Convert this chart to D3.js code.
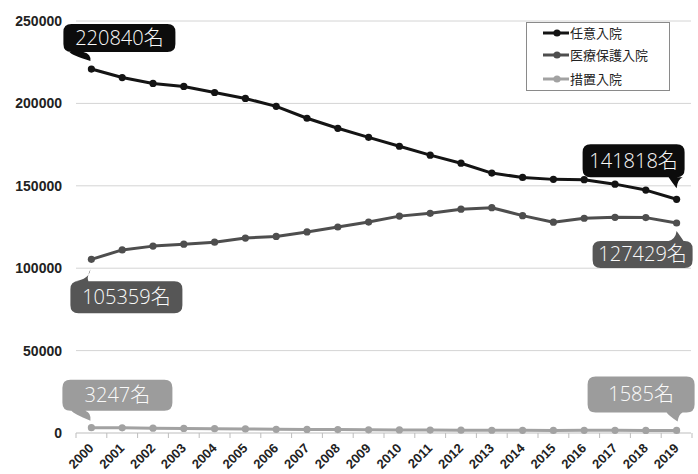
<!DOCTYPE html>
<html>
<head>
<meta charset="utf-8">
<script src="https://cdn.jsdelivr.net/npm/d3@7/dist/d3.min.js"></script>
<style>
  html, body { margin: 0; padding: 0; background: #fff; }
  svg { display: block; }
</style>
</head>
<body>
<svg id="chart" width="698" height="474"></svg>
<script>
// Admissions by type, 2000–2019
const years = ["2000","2001","2002","2003","2004","2005","2006","2007","2008","2009",
               "2010","2011","2012","2013","2014","2015","2016","2017","2018","2019"];
const voluntary = [220840, 215700, 212100, 210300, 206600, 203000, 198200, 191000, 184900, 179400,
                   174000, 168600, 163700, 157700, 155100, 153900, 153700, 151000, 147400, 141818];
const medicalProtection = [105359, 111100, 113400, 114600, 115800, 118300, 119300, 122000, 125000, 128000,
                           131600, 133300, 135800, 136700, 131900, 127900, 130300, 130900, 130700, 127429];
const involuntary = [3247, 3150, 2950, 2750, 2650, 2450, 2250, 2150, 2050, 1950,
                     1850, 1780, 1720, 1660, 1620, 1590, 1610, 1600, 1560, 1585];
const yTicks = [0, 50000, 100000, 150000, 200000, 250000];
const seriesNames = ["任意入院", "医療保護入院", "措置入院"];

const series = [
  { name: seriesNames[0], values: voluntary, color: "#141414", bubble: "#0c0c0c" },
  { name: seriesNames[1], values: medicalProtection, color: "#4e4e4e", bubble: "#565656" },
  { name: seriesNames[2], values: involuntary, color: "#a2a2a2", bubble: "#9c9c9c" }
];

const svg = d3.select("#chart");
const x = d3.scaleBand().domain(years).range([76, 692]);
const cx = d => x(d) + x.bandwidth() / 2;
const y = d3.scaleLinear().domain([0, 250000]).range([433, 21]);

// horizontal gridlines
svg.append("g").selectAll("line").data(yTicks.filter(t => t > 0)).join("line")
  .attr("x1", 76).attr("x2", 691)
  .attr("y1", d => y(d)).attr("y2", d => y(d))
  .attr("stroke", "#d4d4d4").attr("stroke-width", 1);

// y-axis labels
svg.append("g").selectAll("text").data(yTicks).join("text")
  .attr("x", 62).attr("y", d => y(d) + 5)
  .attr("text-anchor", "end")
  .attr("font-family", "Liberation Sans, Arial, sans-serif")
  .attr("font-weight", "bold")
  .attr("font-size", 14)
  .attr("fill", "#222")
  .text(d => d);

// baseline axis with tick marks between categories
const xAxis = d3.axisBottom(x).tickSize(0).tickFormat("");
const axisG = svg.append("g").attr("transform", `translate(0,${y(0)})`).call(xAxis);
axisG.select(".domain").attr("stroke", "#bdbdbd").attr("d", "M76,0H691");
const bounds = years.map(d => x(d)).concat([x(years[years.length - 1]) + x.bandwidth()]);
axisG.selectAll(".sep").data(bounds).join("line").attr("class", "sep")
  .attr("x1", d => d).attr("x2", d => d).attr("y1", 0).attr("y2", 5)
  .attr("stroke", "#bdbdbd");

// rotated year labels
svg.append("g").selectAll("text").data(years).join("text")
  .attr("transform", d => `translate(${cx(d) + 3},${y(0) + 16}) rotate(-45)`)
  .attr("text-anchor", "end")
  .attr("font-family", "Liberation Sans, Arial, sans-serif")
  .attr("font-weight", "bold")
  .attr("font-size", 13)
  .attr("fill", "#222")
  .text(d => d);

// series lines and markers
const line = d3.line().x((v, i) => cx(years[i])).y(v => y(v));
series.slice().reverse().forEach(s => {
  svg.append("path").datum(s.values)
    .attr("d", line).attr("fill", "none")
    .attr("stroke", s.color).attr("stroke-width", 3)
    .attr("stroke-linejoin", "round");
  svg.append("g").selectAll("circle").data(s.values).join("circle")
    .attr("cx", (v, i) => cx(years[i])).attr("cy", v => y(v)).attr("r", 3.6)
    .attr("fill", s.color);
});

// legend
const lg = svg.append("g");
lg.append("rect").attr("x", 526.5).attr("y", 22.5).attr("width", 143).attr("height", 68)
  .attr("fill", "#fff").attr("stroke", "#8a8a8a").attr("stroke-width", 1);
const rowsY = [33, 55, 79];
series.forEach((s, i) => {
  lg.append("line").attr("x1", 543).attr("x2", 569).attr("y1", rowsY[i]).attr("y2", rowsY[i])
    .attr("stroke", s.color).attr("stroke-width", 3);
  lg.append("circle").attr("cx", 557).attr("cy", rowsY[i]).attr("r", 3.6).attr("fill", s.color);
  lg.append("text").attr("x", 570).attr("y", rowsY[i] + 4.5)
    .attr("font-family", "Noto Sans CJK JP, sans-serif")
    .attr("font-size", 13).attr("fill", "#222")
    .text(s.name);
});

// speech-bubble callouts for first and last values
// box offsets are relative to the marked point; tail: side, base x offsets, tip offset
const callouts = [
  { s: 0, i: 0,  box: [-28, -45, 112, 28], tail: { side: "bottom", b0: -22, b1: -8, tip: [-1, -8] } },
  { s: 0, i: 19, box: [-94, -55, 102, 33], tail: { side: "bottom", b0: -8,  b1: 6,  tip: [0, -11] } },
  { s: 1, i: 0,  box: [-21, 22, 112, 32],  tail: { side: "top",    b0: -17, b1: -3, tip: [-1, 10] } },
  { s: 1, i: 19, box: [-84, 18, 100, 27],  tail: { side: "top",    b0: -8,  b1: 7,  tip: [0, 8] } },
  { s: 2, i: 0,  box: [-29, -48, 110, 31], tail: { side: "bottom", b0: -20, b1: -6, tip: [-1, -7] } },
  { s: 2, i: 19, box: [-89, -54, 107, 36], tail: { side: "bottom", b0: -10, b1: 6,  tip: [1, -9] } }
];

function bubblePath(px, py, c) {
  const [dx, dy, w, h] = c.box;
  const x0 = px + dx, y0 = py + dy, x1 = x0 + w, y1 = y0 + h, r = 8;
  const t = c.tail;
  const tb0 = px + t.b0, tb1 = px + t.b1, tx = px + t.tip[0], ty = py + t.tip[1];
  const p = d3.path();
  p.moveTo(x0 + r, y0);
  if (t.side === "top") {
    p.lineTo(tb0, y0);
    p.quadraticCurveTo(tx - 1, y0 - 2, tx, ty);
    p.quadraticCurveTo(tb1 - 2, y0 - 3, tb1, y0);
  }
  p.lineTo(x1 - r, y0);
  p.quadraticCurveTo(x1, y0, x1, y0 + r);
  p.lineTo(x1, y1 - r);
  p.quadraticCurveTo(x1, y1, x1 - r, y1);
  if (t.side === "bottom") {
    p.lineTo(tb1, y1);
    p.quadraticCurveTo(tx + 1, y1 + 2, tx, ty);
    p.quadraticCurveTo(tb0 + 2, y1 + 3, tb0, y1);
  }
  p.lineTo(x0 + r, y1);
  p.quadraticCurveTo(x0, y1, x0, y1 - r);
  p.lineTo(x0, y0 + r);
  p.quadraticCurveTo(x0, y0, x0 + r, y0);
  p.closePath();
  return p.toString();
}

const cg = svg.append("g");
callouts.forEach(c => {
  const s = series[c.s];
  const v = s.values[c.i];
  const px = cx(years[c.i]), py = y(v);
  cg.append("path").attr("d", bubblePath(px, py, c)).attr("fill", s.bubble);
  const [dx, dy, w, h] = c.box;
  cg.append("text")
    .attr("x", px + dx + w / 2).attr("y", py + dy + h / 2 + 7)
    .attr("text-anchor", "middle")
    .attr("font-family", "Open Sans, Noto Sans CJK JP, sans-serif")
    .attr("font-weight", 300)
    .attr("font-size", 20).attr("fill", "#fafafa")
    .text(v + "名");
});
</script>
</body>
</html>
